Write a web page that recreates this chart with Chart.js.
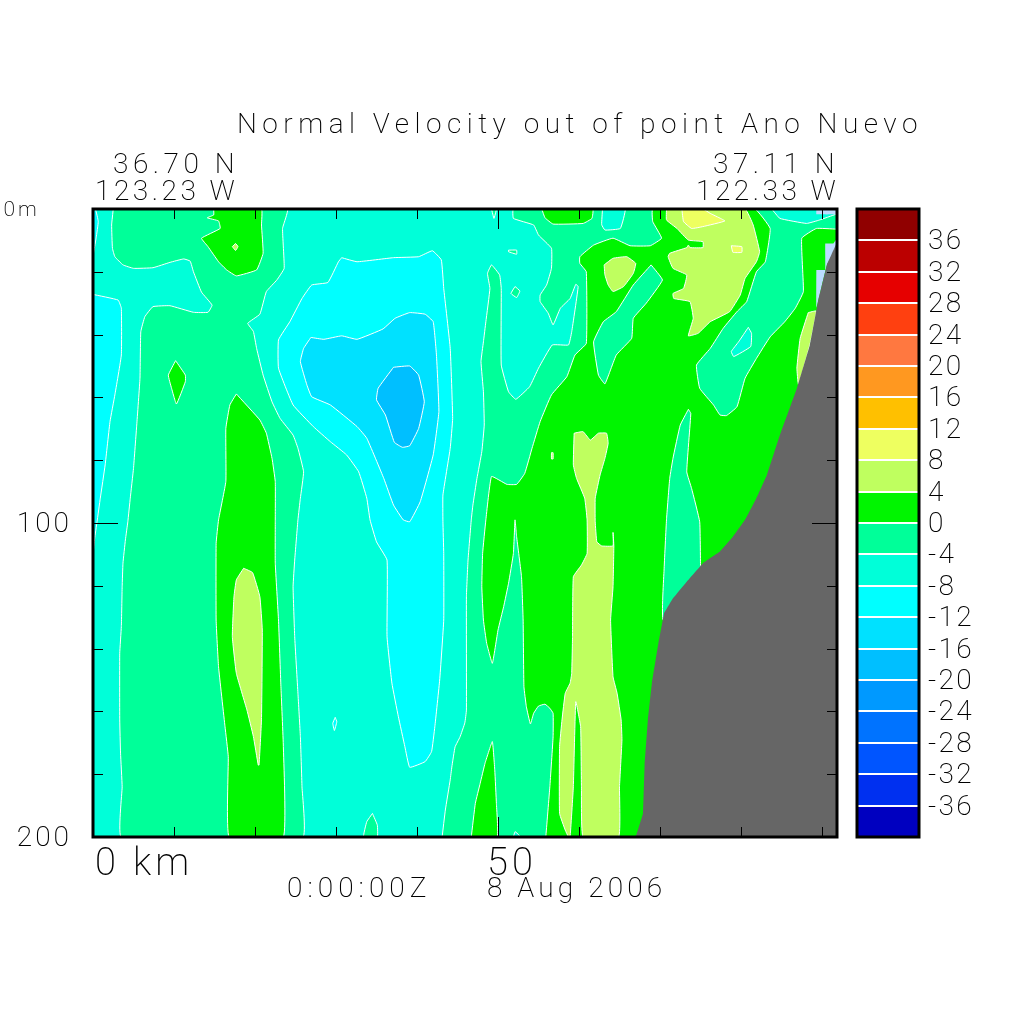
<!DOCTYPE html>
<html><head><meta charset="utf-8">
<script src="https://cdn.jsdelivr.net/npm/chart.js@4"></script>
<style>html,body{margin:0;padding:0;background:#fff}canvas{position:absolute;left:0;top:0}</style>
</head><body>
<canvas id="main" width="1024" height="1024"></canvas>
<canvas id="bar" width="1024" height="1024"></canvas>
<script>
// ---- axis data ----
const xTickValues=[0,10,20,30,40,50,60,70,80,90];
const yTickValues=[0,20,40,60,80,100,120,140,160,180,200];
const xLabelValues=[0,50];
const xLabelTexts=['0 km','50'];
const xMax=91.85, yMax=200;
const colorLevels=[-40,-36,-32,-28,-24,-20,-16,-12,-8,-4,0,4,8,12,16,20,24,28,32,36];
const colorValues=['#0000C0','#0030F0','#0055FF','#0073FF','#0099FF','#00BFFF','#00E1FF','#00FFFF','#00FFD9','#00FF99','#00F500','#BFFF5F','#EEFF60','#FFC000','#FF9820','#FF7840','#FF4010','#E60000','#BB0000','#900000'];
// ---- contour outlines: [km, depth m] ----
const fullSection=[[0,0],[91.85,0],[91.85,200],[0,200]];
const leftStrip=[[0,27.2],[3.1,29],[3.5,31.6],[3.5,46.5],[2.7,59.2],[2.1,67.7],[1.5,81.5],[0.9,92.1],[0.5,99.6],[0.2,105],[0,110]];
const topLeftSliver=[[0,0],[0.3,0],[0.65,4],[0.4,9],[0.1,13.5],[0,15]];
const westMinus4=[[2.5,0],[2.3,5.1],[2.4,12.5],[2.7,15.2],[3.7,17.8],[5,18.9],[7.4,18.7],[9.5,17],[11.2,15.9],[12,16.6],[12.4,20],[13.4,26.5],[14.7,30.6],[14.2,32.9],[12.4,32.9],[9.5,30.8],[7.4,31.1],[6.4,34.3],[5.9,39.1],[5.8,53.9],[5.4,68.8],[5,82.6],[4.6,92.1],[4.3,99.6],[4,105.4],[3.7,112.8],[3.6,120.3],[3.5,133],[3.3,141.5],[3.3,162.7],[3.4,173.3],[3.6,184],[3.5,200],[25.9,200],[25.8,184],[25.6,168],[25.3,154.2],[24.9,136.2],[24.7,120.3],[24.9,111.8],[25.3,99],[25.6,92.1],[26,83.7],[25.3,76.2],[24.7,72],[23.1,66.7],[22.1,61.4],[21,52.9],[20.2,44.4],[19.8,39],[19.1,36.4],[20.6,33.5],[21.4,26.3],[22.7,22.6],[23.6,18.9],[23.4,6.2],[24,0]];
const westTopGreen=[[14.9,0],[14.9,1.9],[14.1,2.8],[15.5,3.8],[15.7,6.2],[13.4,9.3],[14.2,12],[15.5,16.8],[16.5,19.4],[17.7,21.3],[20.2,19.4],[21,14.1],[20.8,5.1],[20.8,0]];
const westTopDot=[[17.2,12],[17.6,11],[17.9,12],[17.6,13.2]];
const westDiamond=[[10.2,48.3],[9.3,52.9],[9.7,57.1],[10.3,62.1],[11.4,55],[11.4,52.9]];
const westLongGreen=[[17.7,58.9],[20.6,67.2],[21.4,71.4],[22.1,79.4],[22.5,86.8],[22.5,99.6],[22.5,112.8],[22.9,130.9],[23.2,152.1],[23.5,171.2],[23.5,200],[16.8,200],[16.7,174.4],[16.3,164.9],[15.5,145.8],[15.2,130.9],[15.2,106.5],[15.5,99],[16.4,86.8],[16.4,69.9],[16.9,62.4]];
const westLongPlus4=[[18.6,114.4],[19.7,115.8],[20.6,123.5],[20.9,134.1],[20.8,162.7],[20.5,177.1],[20.4,177.1],[19.8,168],[19,159.5],[17.7,147.9],[17.2,136.2],[17.4,123.5],[17.7,118.1]];
const coreMinus12=[[30.7,15.5],[32.6,16.8],[37.1,15.5],[40.2,15.2],[41.9,13.3],[43,16.2],[43.3,25.3],[44.1,44.4],[44.4,66.7],[44.1,76.2],[43.2,91.1],[43.2,99.6],[43.3,109.7],[43.3,130.9],[42.8,150],[42.2,164.9],[41.8,172.8],[41,176],[39.1,177.8],[38.5,171.2],[37.7,161.7],[36.9,151],[36.3,136.2],[36.3,111.8],[35,106],[34.2,99],[33.8,92.1],[32.8,83.7],[31.3,78.3],[29.3,74.1],[27.2,69.3],[24.7,62.4],[22.9,50.7],[22.9,41.7],[24.3,35.9],[25.8,28.5],[27,24.2],[29,23.4],[30.3,16.8]];
const coreMinus16=[[26.9,40.9],[28.5,41.5],[30.7,40.4],[32.6,41.5],[35.8,38.2],[37.3,34.8],[39.1,33],[41,33.5],[42,35.9],[42.4,46.5],[42.7,64.5],[42,78.3],[40.4,93.2],[39.1,99.6],[38.3,99],[37.1,94.3],[35.9,85.8],[33.8,73],[32.6,69.3],[29.3,62.4],[27,59.8],[26.4,56],[25.6,48.6],[26,44.4]];
const coreMinus20=[[37.1,50.4],[39.1,50],[40.2,52.9],[40.9,61.4],[40.2,69.9],[39.1,75.4],[38.2,75.9],[37.2,74.3],[36.1,65.6],[35,60.8],[35.2,57.1]];
const tinyCyan=[[29.9,161.9],[30.1,163.3],[29.8,166.1],[29.6,163.8]];
const bottomBump=[[34.5,192.5],[35.1,196.2],[35.1,200],[33.4,200],[33.8,195.1]];
const eastMinus4=[[43.1,200],[43.5,191.4],[44.1,181.8],[44.3,177.7],[44.7,171.3],[45.3,168.2],[45.9,163.7],[46.1,159.6],[46.1,123.5],[46.3,111.8],[46.7,99],[46.9,94.3],[47.4,85.8],[48,77.3],[48.3,68.8],[48.2,58.2],[47.9,48.6],[48.2,42.3],[48.5,35.9],[49,25.3],[48.7,20.5],[49.2,17.8],[50.2,21],[50.4,25.3],[50.4,49.7],[51.3,58.2],[52.2,60.6],[53.9,56.6],[55,50.7],[56.7,43.3],[58.7,43.3],[59.1,39.1],[59.9,24.7],[59.6,24],[58.9,28.5],[57.7,31.6],[56.8,36.9],[56.2,33.2],[55.2,29.5],[55.2,27.4],[56,24.2],[56.6,18.9],[56.6,12.5],[55,8.3],[54.4,5.1],[51.9,3],[51.9,0],[91.85,0],[91.85,200]];
const topNick=[[49.2,0],[49.5,3],[49.8,0]];
const outlineA=[[51.3,13.1],[52.3,13.1],[52.3,14.4],[51.3,13.6]];
const outlineB=[[52.1,24.7],[52.7,26.1],[52.3,28.2],[51.6,26.9]];
const lowerGreen=[[46.7,200],[47.2,189.3],[47.8,182.9],[48.4,176.5],[49.3,169.6],[49.6,178.7],[49.8,189.3],[49.9,200]];
const lowerNick=[[51.9,200],[52.1,198.3],[52.6,199.4],[52.7,200]];
const mainGreen=[[55.9,200],[56.4,184],[56.8,168.1],[56.8,160.6],[56.4,159],[55.8,157.7],[55,158.3],[54.4,160.6],[54,164],[53.5,158.5],[53.2,152.1],[53.1,130.9],[52.9,117.1],[52.3,104.4],[52.1,99],[51.9,109.7],[51.3,119.2],[50.7,126.6],[50,134.1],[49.3,144.7],[48.6,138.3],[48.2,130.9],[48,120.3],[48.1,109.7],[48.5,99],[49.2,85.2],[51.1,87.7],[52.3,87.7],[53.3,84.2],[54.2,76.2],[55.2,67.7],[56.6,59.2],[58.5,53.4],[59.5,46.5],[60.9,42.8],[60.9,20],[60.1,17.3],[60.1,15.2],[61.8,11.5],[64.2,9.3],[66.3,11.7],[68.8,11.7],[70.2,9.3],[69.1,4],[69.1,0],[81.7,0],[83.6,6.2],[83,16.8],[81.9,20],[80.7,29.5],[79.5,32.7],[77.8,38],[76.2,44.4],[74.5,49.7],[74.9,57.1],[76.6,62.4],[77.4,65.6],[78.2,65.8],[79.5,63],[80.5,53.9],[81.9,47.6],[83.6,40.7],[85.4,35.9],[86.7,31.6],[87.7,26.3],[87.5,9.3],[89.3,6.2],[91.7,6.4],[91.85,6.4],[91.85,200]];
const topGreenBlob=[[55.4,0],[55.8,2.8],[56.8,4.8],[60.5,4.6],[61.6,3],[61.7,0]];
const topMinus8Blob=[[62.9,0],[62.8,5],[63.2,6.7],[65.1,6.2],[65.7,0]];
const northPlus4=[[70.8,0],[70.8,3.5],[72.1,6.2],[73.5,9.9],[75.3,10.4],[75.3,12.3],[73.7,12.3],[73.5,11.5],[73.3,12.3],[71.2,14.1],[71,15.2],[71.6,18.9],[73.3,21],[72.9,25.3],[71.6,26.9],[71.7,28.5],[73.7,29.5],[74.1,34.8],[73.5,40.4],[74.7,39.6],[76.2,35.9],[78.6,32.7],[79.9,27.4],[80.5,22.1],[81.9,16.8],[82.3,13.6],[81.5,5.1],[80.5,0]];
const northPlus8=[[72.7,0],[72.9,4],[73.9,6.2],[75.3,5.6],[78,3.8],[76.2,1.4],[75.3,0]];
const northDot=[[78.8,11.7],[80.1,12],[80.1,13.8],[79,13.8]];
const ovalPlus4=[[63.1,17.8],[64.2,15.7],[65.9,15.2],[67,17.3],[66.7,20.5],[65.5,24.7],[64.2,26.3],[63.6,24.2],[63.2,21]];
const diagMinus4=[[68.9,17.8],[70.3,22.6],[68.3,30],[66.7,34.8],[66.5,41.2],[64.6,46.5],[63.2,55.7],[62.4,52.9],[61.8,42.3],[63,35.9],[64.6,32.7],[66.7,24.2]];
const pocketMinus8=[[80.9,37.7],[81.3,39.6],[81.2,43.8],[79.1,47],[78.8,45.4],[79.7,42.3]];
const speck=[[56.6,77.6],[56.8,77.6],[56.8,79.6],[56.6,79.6]];
const heartPlus4=[[59.4,71.4],[60.5,70.9],[61.4,73.6],[62.4,71.4],[63.4,71.4],[63.6,74.6],[63.2,79.4],[62.6,84.7],[62,92.1],[62,99.6],[62.2,106],[62.8,107.3],[64.2,107.3],[64.2,103],[64.3,107.3],[64.2,120.3],[63.9,130.9],[64.2,149],[64.7,154.2],[65.2,162.7],[65.3,169.1],[65,184],[64.9,200],[60.5,200],[60.3,184],[60.2,164.9],[59.6,156.9],[59.3,184],[58.9,200],[58.7,200],[58.3,197.8],[57.6,192.5],[57.6,171.2],[57.9,162.7],[58.3,154.2],[58.9,151],[59.1,147.9],[59.2,136.2],[59.3,117.1],[60.3,113.4],[61,109.7],[61,99],[60.7,92.1],[59.7,85.8],[59.3,81.5]];
const wedgeMinus4=[[73.5,63.8],[73.8,65.1],[73.3,83.7],[73.9,89],[74.9,99.6],[75,113.9],[75,131],[70.4,131],[70.5,115],[70.8,99],[71.2,85.8],[71.6,79.4],[72.5,68.8]];
const coastPlus4=[[88.3,33],[89.3,32.5],[88.5,43.3],[87.1,56],[86.9,50.7],[87.3,41.2]];
const topRightMinus8=[[83.8,0],[84.8,3],[88.1,4.6],[89.7,3.5],[91.7,1.7],[91.85,1.7],[91.85,0]];
const shelfLight=[[89.3,19.4],[90.4,19.4],[90.4,11],[91.4,11],[91.85,9.3],[91.85,12],[90.6,17.8],[89.5,29.5],[89.3,31.4]];
const topLight=[[89.3,0],[91.85,0],[91.85,1.7],[89.3,1.7]];
const terrain=[[67,200],[67.9,192.5],[68.1,177],[68.5,162.7],[69,151],[69.8,138.3],[70.5,128.8],[71.6,124],[73.3,118.7],[75.3,112.8],[77.4,109.1],[79,104.4],[80.5,99],[81.9,92.1],[83.2,84.7],[84.8,72],[86.9,57.1],[88.5,43.3],[89.5,29.5],[90.6,17.8],[91.7,11.5],[91.85,10.5],[91.85,200]];

const levelRegions=[
 [fullSection,-8],[leftStrip,-12],[topLeftSliver,-12],[westMinus4,-4],[westTopGreen,0],[westTopDot,4],[westDiamond,0],
 [westLongGreen,0],[westLongPlus4,4],[coreMinus12,-12],[coreMinus16,-16],[coreMinus20,-20],[tinyCyan,-12],[bottomBump,-4],
 [eastMinus4,-4],[topNick,-4],[outlineA,-4],[outlineB,-4],[lowerNick,-8],[lowerGreen,0],[mainGreen,0],[topRightMinus8,-8],
 [topGreenBlob,0],[topMinus8Blob,-8],[northPlus4,4],[northPlus8,8],[northDot,8],[ovalPlus4,4],[diagMinus4,-4],[pocketMinus8,-8],
 [speck,4],[heartPlus4,4],[wedgeMinus4,-4],[coastPlus4,4]
];
const plainRegions=[[shelfLight,'#BBDDFF'],[topLight,'#BBDDFF'],[terrain,'#666666']];

const FONT='Roboto';
const WEIGHT=200;
const polyDataset=(pts,fillC,line,i)=>({data:pts.concat([pts[0]]).map(p=>({x:p[0],y:p[1]})),showLine:true,pointRadius:0,tension:line?0.1:0.03,fill:'shape',backgroundColor:fillC,borderColor:line?'#FFFFFF':fillC,borderWidth:line?1:0,order:-i});
const colorOf=l=>colorValues[colorLevels.indexOf(l)];
const datasets=[];
levelRegions.forEach(r=>datasets.push(polyDataset(r[0],colorOf(r[1]),r[0]!==fullSection,datasets.length)));
plainRegions.forEach(r=>datasets.push(polyDataset(r[0],r[1],false,datasets.length)));

const textItems=[
 ['Normal Velocity out of point Ano Nuevo',237,133,28,5.5],
 ['36.70 N',113,173,28,4.5],['123.23 W',95,200,28,3.5],
 ['37.11 N',713,173,28,4.5],['122.33 W',696,200,28,3.5],
 ['0:00:00Z',287,897,28,5],['8 Aug 2006',487,897,28,4.1]
];
const spacing={id:'spacing',beforeDraw(c){c.ctx.letterSpacing='3px';}};
const decor={id:'decor',afterDraw(c){
 const ctx=c.ctx,a=c.chartArea,xs=c.scales.x,ys=c.scales.y;
 ctx.save();ctx.strokeStyle='#000';ctx.lineWidth=1;ctx.beginPath();
 xTickValues.forEach(v=>{const p=Math.round(xs.getPixelForValue(v))+.5,l=v===50?20:10;ctx.moveTo(p,a.top);ctx.lineTo(p,a.top+l);ctx.moveTo(p,a.bottom);ctx.lineTo(p,a.bottom-l);});
 yTickValues.forEach(v=>{const p=Math.round(ys.getPixelForValue(v))+.5,l=v===100?25:10;ctx.moveTo(a.left,p);ctx.lineTo(a.left+l,p);ctx.moveTo(a.right,p);ctx.lineTo(a.right-l,p);});
 ctx.stroke();ctx.lineWidth=3;ctx.strokeRect(a.left,a.top,a.right-a.left,a.bottom-a.top);
 ctx.fillStyle='#000';ctx.textBaseline='alphabetic';ctx.textAlign='left';
 textItems.forEach(t=>{ctx.font=WEIGHT+' '+t[3]+'px '+FONT;ctx.letterSpacing=t[4]+'px';ctx.fillText(t[0],t[1],t[2]);});
 ctx.font=WEIGHT+' 38px '+FONT;ctx.letterSpacing='4px';
 xLabelValues.forEach((v,i)=>{ctx.fillText(xLabelTexts[i],xs.getPixelForValue(v)+(v===0?2:-11),875);});
 ctx.restore();
}};
new Chart(document.getElementById('main'),{type:'scatter',data:{datasets},plugins:[spacing,decor],options:{
 responsive:false,animation:false,
 layout:{padding:{left:0,top:209,right:187,bottom:187}},
 plugins:{legend:{display:false},tooltip:{enabled:false},title:{display:false}},
 scales:{
  x:{type:'linear',min:0,max:xMax,grid:{display:false},border:{display:false},ticks:{display:false,stepSize:10},afterFit(s){s.height=0;}},
  y:{type:'linear',reverse:true,min:0,max:yMax,grid:{display:false},border:{display:false},afterFit(s){s.width=93;},
     ticks:{stepSize:20,autoSkip:false,padding:13,labelOffset:2,color:'#000',
       font:c=>({family:FONT,size:c.tick&&c.tick.value===0?21:28,weight:WEIGHT}),
       callback:v=>v===0?'0m    ':(v===100||v===200?String(v):'')}}
 }}});

// ---- colour bar ----
const barLabels=colorLevels.slice(1);
const barSets=colorLevels.map((l,i)=>({data:[[l,l+4]],backgroundColor:colorValues[i],barPercentage:1,categoryPercentage:1,grouped:false}));
const barFrame={id:'barFrame',beforeDraw(c){c.ctx.letterSpacing='2.3px';},afterDraw(c){const x=c.ctx,a=c.chartArea;x.save();x.strokeStyle='#000';x.lineWidth=3;x.strokeRect(a.left,a.top,a.right-a.left,a.bottom-a.top);x.restore();}};
new Chart(document.getElementById('bar'),{type:'bar',data:{labels:['v'],datasets:barSets},plugins:[barFrame],options:{
 responsive:false,animation:false,
 layout:{padding:{left:857,top:209,right:0,bottom:187}},
 plugins:{legend:{display:false},tooltip:{enabled:false}},
 scales:{
  x:{display:false},
  y:{position:'right',min:-40,max:40,afterFit(s){s.width=105;},border:{display:false},
     grid:{color:'#FFFFFF',lineWidth:2,z:1,drawTicks:false},
     ticks:{stepSize:4,autoSkip:false,padding:9,labelOffset:2,color:'#000',font:{family:FONT,size:28,weight:WEIGHT},callback:v=>barLabels.includes(v)?String(v):''}}
 }}});
</script>
</body></html>
